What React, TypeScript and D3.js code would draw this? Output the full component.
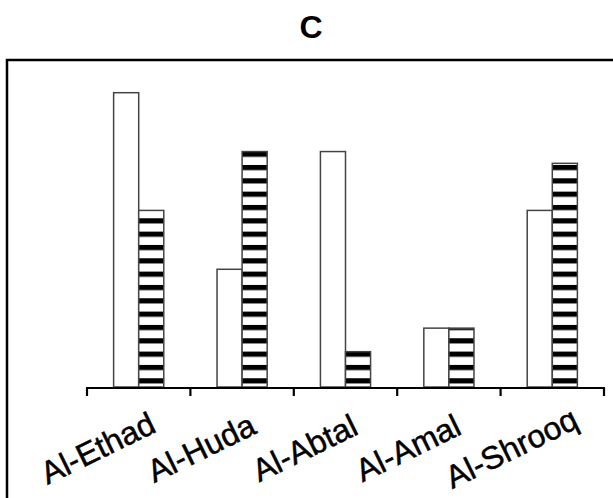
import React from "react";
import * as d3 from "d3";

const categories = ["Al-Ethad", "Al-Huda", "Al-Abtal", "Al-Amal", "Al-Shrooq"];
const seriesNames = ["plain", "striped"];
const plainValues = [5, 2, 4, 1, 3];
const stripedValues = [3, 4, 0.6, 1, 3.8];
const title = "C";

const W = 613;
const H = 498;
const FONT = "'Liberation Sans', Arial, Helvetica, sans-serif";

export default function App() {
  const x = d3.scaleBand<string>().domain(categories).range([87, 604]).padding(0);
  const bw = x.bandwidth();
  const groupW = bw * 0.485;
  const x1 = d3.scaleBand<string>().domain(seriesNames).range([0, groupW]).padding(0);
  const y = d3.scaleLinear().domain([0, 5]).range([387, 92.7]);
  const baseY = y(0);

  const ticks = [...categories.map((c) => x(c) as number), 604];

  const rows = categories.map((c, i) => ({ c, v: [plainValues[i], stripedValues[i]] }));

  return (
    <div style={{ position: "absolute", left: 0, top: 0 }}>
      <svg width={W} height={H} style={{ display: "block", background: "#fff" }}>
        <defs>
          <pattern id="stripes" patternUnits="userSpaceOnUse" x={0} y={5} width={20} height={13.33}>
            <rect x={0} y={0} width={20} height={13.33} fill="#fff" />
            <rect x={0} y={0} width={20} height={5.2} fill="#000" />
          </pattern>
        </defs>
        <rect x={0} y={0} width={W} height={H} fill="#fff" />
        <text x={311} y={38} textAnchor="middle" fontFamily={FONT} fontWeight="bold" fontSize={32} fill="#000">
          {title}
        </text>
        <rect x={7} y={60} width={700} height={500} fill="none" stroke="#000" strokeWidth={2.5} />
        {rows.map((r) => {
          const gx = (x(r.c) as number) + (bw - groupW) / 2;
          return (
            <g key={r.c}>
              {seriesNames.map((s, j) => (
                <rect
                  key={s}
                  x={gx + (x1(s) as number)}
                  y={y(r.v[j])}
                  width={x1.bandwidth()}
                  height={baseY - y(r.v[j])}
                  fill={j === 0 ? "#fff" : "url(#stripes)"}
                  stroke="#444"
                  strokeWidth={1.5}
                />
              ))}
            </g>
          );
        })}
        <line x1={86} x2={605} y1={388} y2={388} stroke="#000" strokeWidth={2.2} />
        {ticks.map((t, i) => (
          <line key={i} x1={t} x2={t} y1={388} y2={396} stroke="#000" strokeWidth={2.2} />
        ))}
        {categories.map((c) => {
          const cx = (x(c) as number) + bw / 2 - 36;
          const cy = 458;
          return (
            <text
              key={c}
              x={cx}
              y={cy}
              textAnchor="middle"
              fontFamily={FONT}
              fontSize={32}
              fill="#000"
              stroke="#000"
              strokeWidth={0.5}
              transform={`rotate(-26 ${cx} ${cy})`}
            >
              {c}
            </text>
          );
        })}
      </svg>
    </div>
  );
}
